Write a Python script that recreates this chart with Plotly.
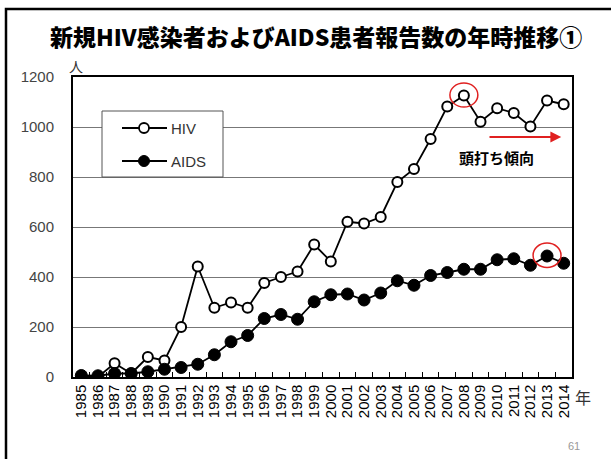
import plotly.graph_objects as go

years = list(range(1985, 2015))
hiv = [0, 0, 55, 14, 80, 66, 200, 442, 277, 298, 277, 376, 400, 422, 530,
       462, 621, 614, 640, 780, 832, 952, 1082, 1126, 1021, 1075, 1056, 1002, 1106, 1091]
aids = [6, 5, 14, 14, 21, 31, 38, 51, 89, 141, 166, 234, 250, 231, 301,
        329, 332, 308, 336, 385, 367, 406, 418, 431, 431, 469, 473, 447, 484, 455]
y_ticks = [0, 200, 400, 600, 800, 1000, 1200]
series_names = ["HIV", "AIDS"]

W, H = 611, 459
L, R, T, B = 73, 572, 77, 377


def px(x):
    return (x - L) / (R - L)


def py(y):
    return (B - y) / (B - T)


fig = go.Figure()
fig.add_trace(go.Scatter(
    x=years, y=hiv, name=series_names[0], mode="lines+markers",
    line=dict(color="black", width=1.8),
    marker=dict(symbol="circle", size=10, color="white", line=dict(color="black", width=2)),
))
fig.add_trace(go.Scatter(
    x=years, y=aids, name=series_names[1], mode="lines+markers",
    line=dict(color="black", width=1.8),
    marker=dict(symbol="circle", size=12, color="black", line=dict(color="black", width=1)),
))

i08 = years.index(2008)
i13 = years.index(2013)

shapes = [
    # slide frame
    dict(type="rect", xref="paper", yref="paper", x0=px(6), x1=px(640), y0=py(9), y1=py(480),
         line=dict(color="black", width=2.5), fillcolor="rgba(0,0,0,0)", layer="below"),
    dict(type="circle", xref="x", yref="y", x0=2008 - 0.84, x1=2008 + 0.84,
         y0=hiv[i08] - 46, y1=hiv[i08] + 50, line=dict(color="#e02020", width=1.5)),
    dict(type="circle", xref="x", yref="y", x0=2013 - 0.84, x1=2013 + 0.84,
         y0=aids[i13] - 46, y1=aids[i13] + 52, line=dict(color="#e02020", width=1.5)),
    # legend box
    dict(type="rect", xref="paper", yref="paper", x0=px(102), x1=px(223), y0=py(177), y1=py(111),
         line=dict(color="#555", width=1), fillcolor="white", layer="above"),
    dict(type="line", xref="paper", yref="paper", x0=px(122), x1=px(167), y0=py(128), y1=py(128),
         line=dict(color="black", width=1.8), layer="above"),
    dict(type="line", xref="paper", yref="paper", x0=px(122), x1=px(167), y0=py(161), y1=py(161),
         line=dict(color="black", width=1.8), layer="above"),
    dict(type="circle", xref="paper", yref="paper", xsizemode="pixel", ysizemode="pixel",
         xanchor=px(144), yanchor=py(128), x0=-5, x1=5, y0=-5, y1=5,
         line=dict(color="black", width=1.8), fillcolor="white", layer="above"),
    dict(type="circle", xref="paper", yref="paper", xsizemode="pixel", ysizemode="pixel",
         xanchor=px(144), yanchor=py(161), x0=-5.5, x1=5.5, y0=-5.5, y1=5.5,
         line=dict(color="black", width=1), fillcolor="black", layer="above"),
]

annotations = [
    dict(text="新規HIV感染者およびAIDS患者報告数の年時推移①", xref="paper", yref="paper",
         x=px(316), y=py(36), showarrow=False, xanchor="center", yanchor="middle",
         font=dict(family="Noto Sans CJK JP", size=23, color="black", weight=900)),
    dict(text="人", xref="paper", yref="paper", x=px(76), y=py(66), showarrow=False,
         xanchor="center", yanchor="middle",
         font=dict(family="Noto Sans CJK JP", size=14, color="#333")),
    dict(text="年", xref="paper", yref="paper", x=px(583), y=py(397), showarrow=False,
         xanchor="center", yanchor="middle",
         font=dict(family="Noto Sans CJK JP", size=16, color="#333")),
    dict(text="61", xref="paper", yref="paper", x=px(574), y=py(446), showarrow=False,
         xanchor="center", yanchor="middle",
         font=dict(family="Liberation Sans", size=11, color="#999")),
    dict(text="<b>頭打ち傾向</b>", xref="x", yref="y", x=2009.95, y=877, showarrow=False,
         xanchor="center", yanchor="middle",
         font=dict(family="Noto Sans CJK JP", size=15, color="black")),
    dict(text="", xref="x", yref="y", axref="x", ayref="y", x=2013.85, y=960,
         ax=2009.45, ay=960, showarrow=True, arrowhead=2, arrowsize=1.2,
         arrowwidth=1.8, arrowcolor="#e02020"),
    dict(text=series_names[0], xref="paper", yref="paper", x=px(169), y=py(128),
         showarrow=False, xanchor="left", yanchor="middle",
         font=dict(family="Liberation Sans", size=15, color="#333")),
    dict(text=series_names[1], xref="paper", yref="paper", x=px(169), y=py(161),
         showarrow=False, xanchor="left", yanchor="middle",
         font=dict(family="Liberation Sans", size=15, color="#333")),
]

fig.update_layout(
    width=W, height=H,
    margin=dict(l=L, r=W - R, t=T, b=H - B, pad=0),
    paper_bgcolor="white", plot_bgcolor="white",
    shapes=shapes, annotations=annotations,
    showlegend=False,
    xaxis=dict(range=[1984.5, 2014.5], tickmode="array", tickvals=years,
               ticktext=[str(y) for y in years], tickangle=-90, ticks="",
               tickfont=dict(family="Liberation Sans", size=15, color="black"),
               showgrid=False, zeroline=False, showline=True, linecolor="black",
               linewidth=1.5, mirror=True,
               minor=dict(tickmode="array", tickvals=[y + 0.5 for y in years[:-1]],
                          ticks="inside", ticklen=5, tickcolor="black", tickwidth=1,
                          showgrid=False)),
    yaxis=dict(range=[0, 1200], tickmode="array", tickvals=y_ticks,
               ticks="", ticklabelstandoff=14,
               tickfont=dict(family="Liberation Sans", size=15, color="#444"),
               showgrid=True, gridcolor="#777", gridwidth=1, zeroline=False,
               showline=True, linecolor="black", linewidth=2, mirror=True),
)

fig.write_html("out.html", config={"displayModeBar": False},
               post_script="document.body.style.margin='0';")
